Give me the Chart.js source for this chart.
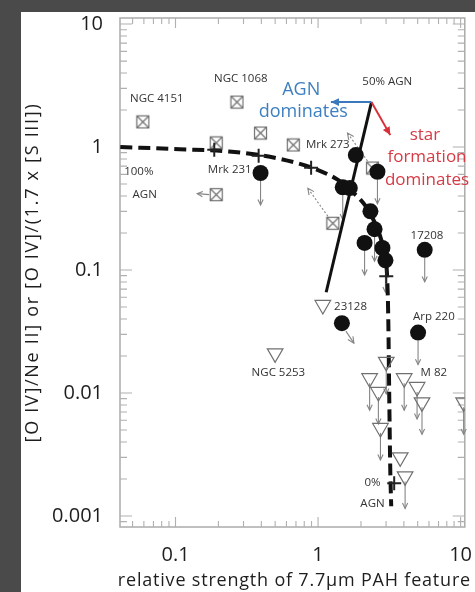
<!DOCTYPE html>
<html><head><meta charset="utf-8">
<script src="https://cdn.jsdelivr.net/npm/chart.js@4.4.0/dist/chart.umd.min.js"></script>
<style>html,body{margin:0;padding:0;background:#4a4a4a;overflow:hidden}canvas{display:block}</style>
</head><body>
<canvas id="c" width="475" height="592" style="width:475px;height:592px"></canvas>
<script>
// ---- data ----
const xTickValues = [0.1, 1, 10];
const yTickValues = [0.001, 0.01, 0.1, 1, 10];

// crossed squares
const sqX = [0.059, 0.27, 0.395, 0.193, 0.67, 0.193, 1.27, 2.41];
const sqY = [1.6, 2.32, 1.3, 1.08, 1.04, 0.41, 0.24, 0.675];
const sqLim = ['', '', '', '', '', 'left', 'upleft', 'upleft'];

// filled circles
const cX = [0.395, 1.84, 2.61, 1.49, 1.67, 2.33, 2.49, 2.12, 2.83, 2.97, 5.6, 1.47, 5.03];
const cY = [0.615, 0.86, 0.63, 0.47, 0.464, 0.30, 0.215, 0.166, 0.151, 0.12, 0.146, 0.037, 0.031];
const cLim = ['down', '', 'down', 'down', '', '', 'down', 'down', '', 'down', 'down', 'downright', 'down'];

// open triangles (upper limits)
const tX = [1.08, 0.50, 3.01, 2.30, 2.65, 4.02, 4.95, 5.36, 2.74, 3.77, 4.08, 10.5];
const tY = [0.052, 0.021, 0.0179, 0.0132, 0.0102, 0.0132, 0.0112, 0.0084, 0.0052, 0.0030, 0.0021, 0.0084];
const tLim = ['', '', 'down', 'down', 'down', 'down', 'down', 'down', 'down', '', 'down', 'down'];

// mixing-model markers
const pX = [0.187, 0.383, 0.894, 3.01, 3.42];
const pY = [0.95, 0.85, 0.68, 0.089, 0.00185];

// dashed mixing curve
const curveX = [0.041, 0.107, 0.237, 0.415, 0.67, 1.0, 1.38, 1.75, 2.12, 2.49, 2.78, 2.97, 3.06, 3.11, 3.16, 3.21, 3.26];
const curveY = [1.0, 0.96, 0.92, 0.85, 0.755, 0.65, 0.54, 0.43, 0.34, 0.245, 0.175, 0.125, 0.083, 0.039, 0.0088, 0.0024, 0.0012];

// 50% AGN line
const lineX = [2.37, 1.14];
const lineY = [2.32, 0.066];

// direction arrows (start, AGN end, SF end)
const arrowX = [2.37, 1.23, 3.21];
const arrowY = [2.32, 2.32, 1.25];

// text labels
const lblText = ['NGC 4151', 'NGC 1068', '50% AGN', 'Mrk 273', 'Mrk 231', '100%', 'AGN', '17208', '23128', 'Arp 220', 'NGC 5253', 'M 82', '0%', 'AGN'];
const lblX = [0.0739, 0.287, 3.06, 1.17, 0.24, 0.0553, 0.0608, 5.81, 1.69, 6.49, 0.527, 6.49, 2.41, 2.41];
const lblY = [2.46, 3.57, 3.38, 1.04, 0.65, 0.626, 0.407, 0.189, 0.050, 0.042, 0.0145, 0.0145, 0.00188, 0.00126];

const agnText = ['AGN', 'dominates'];
const agnX = [0.762, 0.787];
const agnY = [2.9, 1.93];
const sfText = ['star', 'formation', 'dominates'];
const sfX = [5.62, 5.81, 5.81];
const sfY = [1.25, 0.83, 0.54];

const xTitle = 'relative strength of 7.7\u03bcm PAH feature';
const yTitle = '[O IV]/Ne II] or [O IV]/(1.7 x [S III])';

// ---- helpers ----
const FONT = "'Open Sans', 'Noto Sans', sans-serif";
Chart.defaults.font.family = FONT;
const zip = (xs, ys) => xs.map((v, i) => ({x: v, y: ys[i]}));

const sq = document.createElement('canvas');
sq.width = 15; sq.height = 15;
(function(){
  const g = sq.getContext('2d');
  g.strokeStyle = '#707070'; g.lineWidth = 1.2;
  g.strokeRect(1.5, 1.5, 12, 12);
  g.beginPath(); g.moveTo(1.5, 1.5); g.lineTo(13.5, 13.5); g.moveTo(13.5, 1.5); g.lineTo(1.5, 13.5); g.stroke();
})();

function arrow(c, x0, y0, x1, y1, head, filled) {
  const ang = Math.atan2(y1 - y0, x1 - x0);
  c.beginPath(); c.moveTo(x0, y0); c.lineTo(x1, y1); c.stroke();
  const a1 = ang + Math.PI - 0.45, a2 = ang + Math.PI + 0.45;
  c.save(); c.setLineDash([]);
  c.beginPath();
  c.moveTo(x1 + head * Math.cos(a1), y1 + head * Math.sin(a1));
  c.lineTo(x1, y1);
  c.lineTo(x1 + head * Math.cos(a2), y1 + head * Math.sin(a2));
  if (filled) { c.closePath(); c.fill(); } else c.stroke();
  c.restore();
}

function limitArrows(c, xs, ys, lims, X, Y, r) {
  xs.forEach((v, i) => {
    const k = lims[i]; if (!k) return;
    const px = X.getPixelForValue(v), py = Y.getPixelForValue(ys[i]);
    c.setLineDash([]);
    if (k === 'down') arrow(c, px, py + r, px, py + 32, 6, false);
    else if (k === 'left') arrow(c, px - r, py, px - 19, py - 1, 6, false);
    else if (k === 'upleft') { c.setLineDash([2, 2]); arrow(c, px - 5, py - 7, px - 25, py - 35, 7, false); }
    else if (k === 'downright') arrow(c, px + 4, py + r, px + 12, py + 20, 7, false);
  });
}

const noPad = s => { s.paddingLeft = 0; s.paddingRight = 0; s.paddingTop = 0; s.paddingBottom = 0; };

const decor = {
  id: 'decor',
  beforeDraw(chart) {
    const c = chart.ctx;
    c.save();
    c.fillStyle = '#4a4a4a'; c.fillRect(0, 0, chart.width, chart.height);
    c.fillStyle = '#ffffff'; c.fillRect(21, 12, chart.width - 21, chart.height - 12);
    c.restore();
  },
  beforeDatasetsDraw(chart) {
    const c = chart.ctx, a = chart.chartArea, X = chart.scales.x, Y = chart.scales.y;
    c.save();
    c.strokeStyle = '#ababab'; c.lineWidth = 1.5;
    c.strokeRect(a.left, a.top, a.right - a.left, a.bottom - a.top);
    c.lineWidth = 1.1; c.strokeStyle = '#b0b0b0';
    c.beginPath();
    for (let d = -2; d <= 1; d++) for (let k = 1; k <= 9; k++) {
      const v = k * Math.pow(10, d);
      if (v < X.min || v > X.max) continue;
      const p = X.getPixelForValue(v), L = k === 1 ? 10 : 6;
      c.moveTo(p, a.bottom); c.lineTo(p, a.bottom - L);
      c.moveTo(p, a.top); c.lineTo(p, a.top + L);
    }
    for (let d = -4; d <= 1; d++) for (let k = 1; k <= 9; k++) {
      const v = k * Math.pow(10, d);
      if (v < Y.min || v > Y.max) continue;
      const p = Y.getPixelForValue(v), L = k === 1 ? 12 : 7;
      c.moveTo(a.left, p); c.lineTo(a.left + L, p);
      c.moveTo(a.right, p); c.lineTo(a.right - L, p);
    }
    c.stroke();
    // limit arrows
    c.strokeStyle = '#858585'; c.lineWidth = 1.1;
    limitArrows(c, sqX, sqY, sqLim, X, Y, 7);
    limitArrows(c, cX, cY, cLim, X, Y, 8);
    limitArrows(c, tX, tY, tLim, X, Y, 5);
    c.restore();
  },
  afterDatasetsDraw(chart) {
    const c = chart.ctx, a = chart.chartArea, X = chart.scales.x, Y = chart.scales.y;
    c.save();
    // direction arrows
    const x0 = X.getPixelForValue(arrowX[0]), y0 = Y.getPixelForValue(arrowY[0]);
    c.lineWidth = 2;
    c.strokeStyle = c.fillStyle = '#3a78bd';
    arrow(c, x0, y0, X.getPixelForValue(arrowX[1]), Y.getPixelForValue(arrowY[1]), 9, true);
    c.strokeStyle = c.fillStyle = '#d8303a';
    arrow(c, x0, y0, X.getPixelForValue(arrowX[2]), Y.getPixelForValue(arrowY[2]), 9, true);
    // labels
    c.textAlign = 'center'; c.textBaseline = 'middle';
    c.fillStyle = '#333'; c.font = '11.5px ' + FONT;
    lblText.forEach((t, i) => c.fillText(t, X.getPixelForValue(lblX[i]), Y.getPixelForValue(lblY[i])));
    c.font = '18px ' + FONT; c.fillStyle = '#3d7fc0';
    agnText.forEach((t, i) => c.fillText(t, X.getPixelForValue(agnX[i]), Y.getPixelForValue(agnY[i])));
    c.font = '17px ' + FONT; c.fillStyle = '#d63a45';
    sfText.forEach((t, i) => c.fillText(t, X.getPixelForValue(sfX[i]), Y.getPixelForValue(sfY[i])));
    // axis titles
    c.fillStyle = '#1e1e1e'; c.font = '18px ' + FONT;
    c.letterSpacing = '0.8px';
    c.fillText(xTitle, (a.left + a.right) / 2 + 2, 581);
    c.letterSpacing = '1.7px';
    c.translate(33, (a.top + a.bottom) / 2); c.rotate(-Math.PI / 2);
    c.fillText(yTitle, 0, 0);
    c.restore();
  }
};

new Chart(document.getElementById('c'), {
  type: 'scatter',
  data: {
    datasets: [
      {data: zip(curveX, curveY), showLine: true, borderColor: '#111', borderWidth: 4, borderDash: [12, 6], cubicInterpolationMode: 'monotone', pointRadius: 0, order: 5},
      {data: zip(lineX, lineY), showLine: true, borderColor: '#111', borderWidth: 3, pointRadius: 0, order: 4},
      {data: zip(sqX, sqY), pointStyle: sq, pointRadius: 7, order: 3},
      {data: zip(tX, tY), pointStyle: 'triangle', rotation: 180, pointRadius: 9, borderColor: '#707070', backgroundColor: 'rgba(255,255,255,0)', borderWidth: 1.2, order: 3},
      {data: zip(cX, cY), pointStyle: 'circle', pointRadius: 8, borderColor: '#111', backgroundColor: '#111', borderWidth: 0, order: 2},
      {data: zip(pX, pY), pointStyle: 'cross', pointRadius: 7, borderColor: '#222', borderWidth: 2, order: 1}
    ]
  },
  options: {
    responsive: false, animation: false, devicePixelRatio: 1,
    layout: {padding: {left: 0, right: 7, top: 18, bottom: 0}},
    plugins: {legend: {display: false}, tooltip: {enabled: false}},
    scales: {
      x: {
        type: 'logarithmic', position: 'bottom', min: 0.0408, max: 10.7,
        grid: {display: false, drawTicks: false}, border: {display: false},
        afterBuildTicks: s => { s.ticks = xTickValues.map(v => ({value: v, major: true})); },
        afterFit: s => { s.height = 65; noPad(s); },
        ticks: {padding: 16, color: '#1e1e1e', font: {size: 20}, autoSkip: false, maxRotation: 0, callback: v => String(v)}
      },
      y: {
        type: 'logarithmic', position: 'left', min: 0.000814, max: 11.2,
        grid: {display: false, drawTicks: false}, border: {display: false},
        afterBuildTicks: s => { s.ticks = yTickValues.map(v => ({value: v, major: true})); },
        afterFit: s => { s.width = 120; noPad(s); },
        ticks: {padding: 17, color: '#1e1e1e', font: {size: 20}, autoSkip: false, callback: v => String(v)}
      }
    }
  },
  plugins: [decor]
});
</script>
</body></html>
